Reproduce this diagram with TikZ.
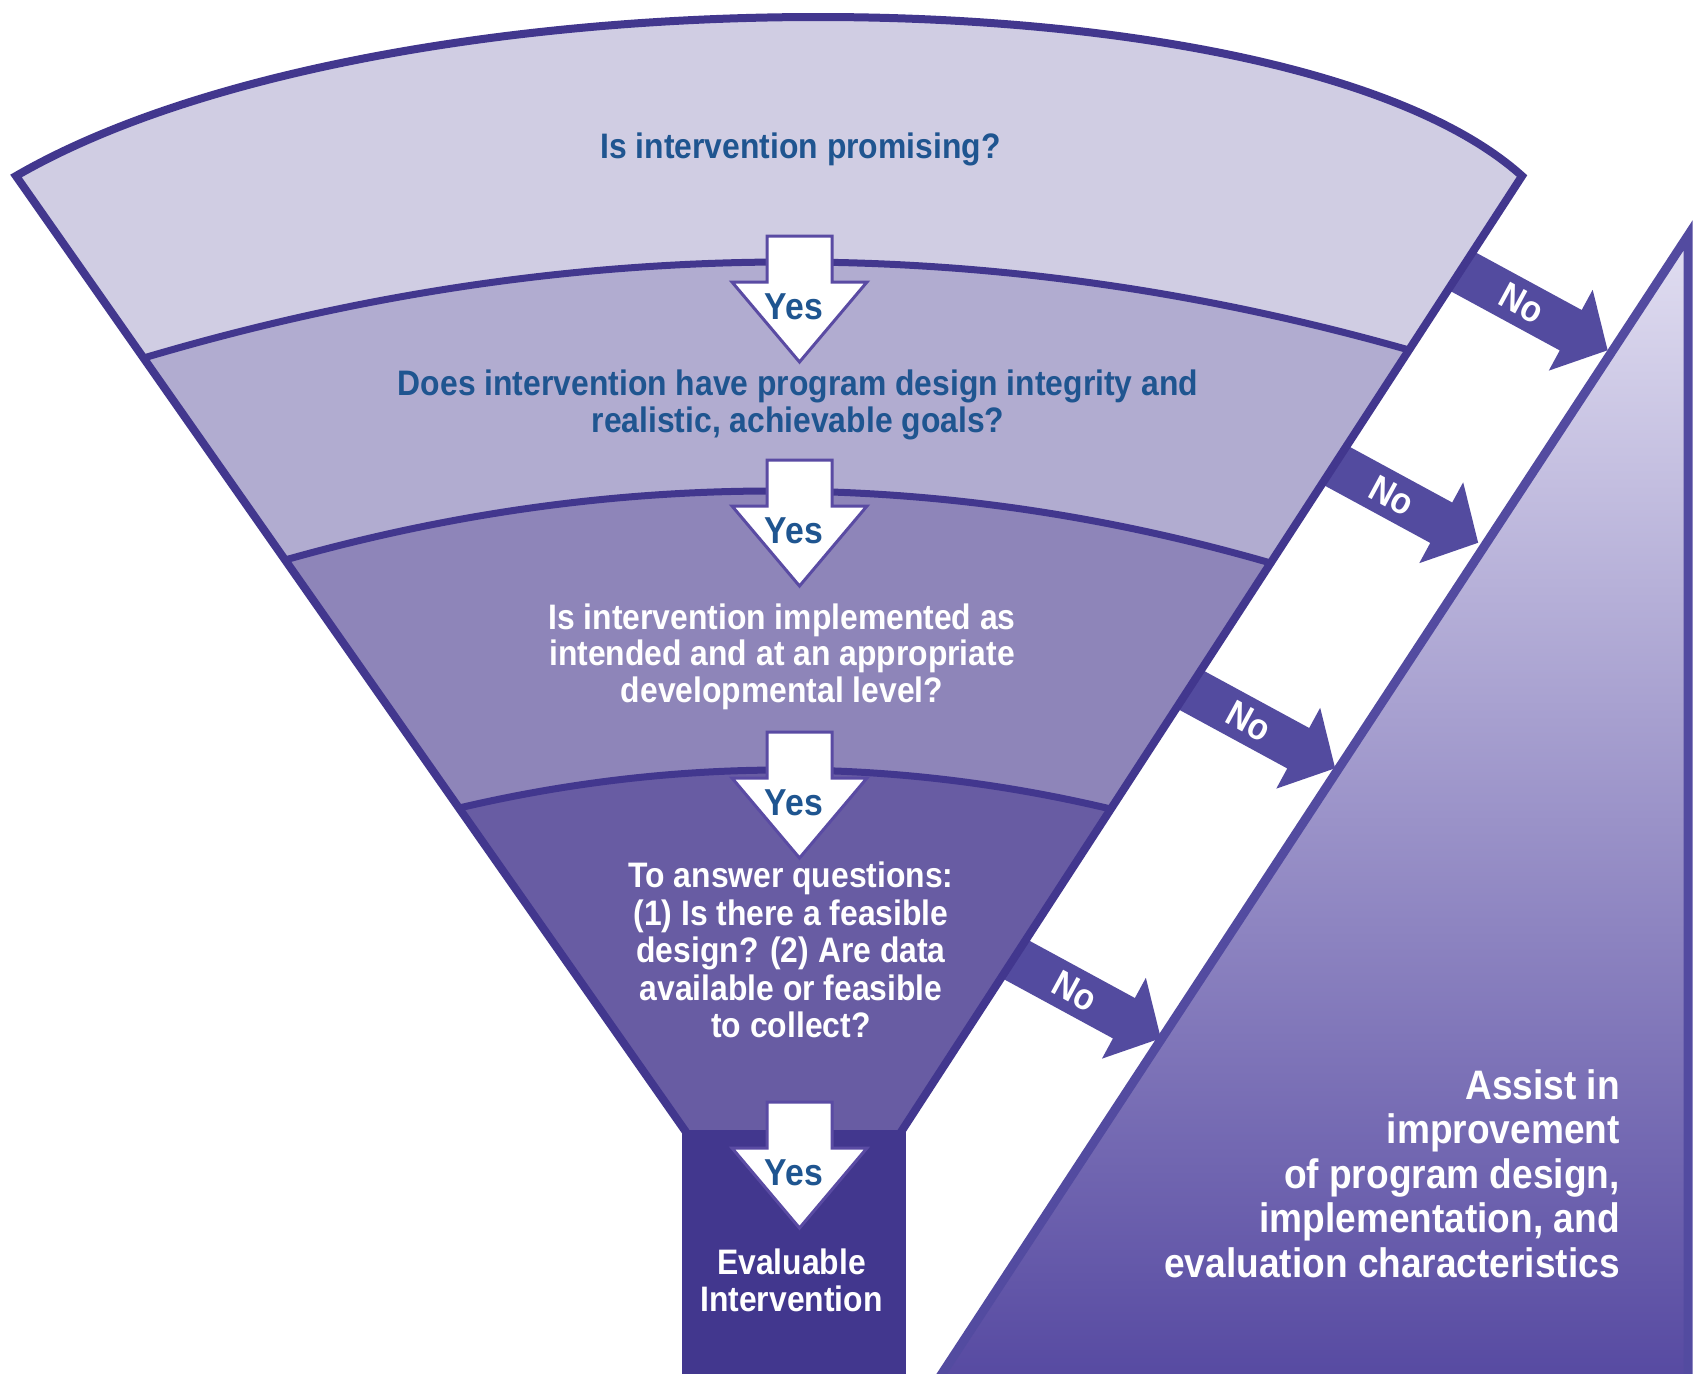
\documentclass[tikz,border=0pt]{standalone}
\usepackage{fontspec}
\setmainfont{Liberation Sans}[FakeStretch=0.9]
\usetikzlibrary{calc}
\definecolor{bandA}{HTML}{D0CDE3}
\definecolor{bandB}{HTML}{B1ACD0}
\definecolor{bandC}{HTML}{8E85B9}
\definecolor{bandD}{HTML}{685CA3}
\definecolor{funline}{HTML}{42378E}
\definecolor{qblue}{HTML}{1F5590}
\definecolor{noarrow}{HTML}{534B9F}
\definecolor{triline}{HTML}{534BA0}
\definecolor{tritop}{HTML}{E1DEF1}
\definecolor{trimid}{HTML}{A39BCA}
\definecolor{tribot}{HTML}{5447A0}
\definecolor{yesline}{HTML}{5A4BA3}
\begin{document}
\begin{tikzpicture}[x=1pt,y=-1pt,
  qtext/.style={font=\fontsize{35.4}{36.5}\selectfont\bfseries,inner sep=0pt,align=center,anchor=base},
  wide/.style={font=\fontsize{35.4}{37.5}\selectfont\bfseries},
  bluetext/.style={qtext,text=qblue},
  whitetext/.style={qtext,text=white},
  sidetext/.style={font=\fontsize{41.2}{44.5}\selectfont\bfseries,inner sep=0pt,align=right,anchor=base east,text=white},
  yestext/.style={font=\fontsize{37.5}{40}\selectfont\bfseries,inner sep=0pt,anchor=base,text=qblue},
  notext/.style={font=\fontsize{37}{40}\selectfont\bfseries,inner sep=0pt,text=white,rotate=-28.5},
  funnelline/.style={draw=funline,line width=8pt,line join=miter},
  bandline/.style={draw=funline,line width=7pt},
  yesarrow/.style={fill=white,draw=yesline,line width=3pt,line join=miter},
  noshape/.style={fill=noarrow},
]
\useasboundingbox (0,0) rectangle (1704,1373);
\clip (0,0) rectangle (1704,1373);
\fill[white] (0,0) rectangle (1704,1373);

% ---- right triangle ----
\coordinate (TA) at (1688,235.5);
\coordinate (TB) at (1688,1400);
\coordinate (TC) at (924.7,1400);
\shade[top color=tritop, middle color=trimid, bottom color=tribot] (TA) -- (TB) -- (TC) -- cycle;
\draw[triline, line width=9pt, line join=miter] (TC) -- (TA) -- (TB);

% ---- No arrows ----
\foreach \ox/\oy/\nm in {1463.5/272/1, 1334/464.5/2, 1191/690/3, 1016.7/960/4}{
  \begin{scope}[shift={(\ox,\oy)}, rotate=-28.5]
    \fill[noshape] (-10,-23) -- (122,-23) -- (122,-46) -- (164,0) -- (122,46) -- (122,23) -- (-10,23) -- cycle;
    \node[notext] (no\nm) at (66,0) {No};
  \end{scope}
}

% ---- funnel geometry ----
\coordinate (L1) at (16,176);
\coordinate (L2) at (143.6,358);
\coordinate (L3) at (285,560);
\coordinate (L4) at (459,808);
\coordinate (L5) at (686,1132);
\coordinate (R1) at (1522,176);
\coordinate (R2) at (1409,350);
\coordinate (R3) at (1270.6,563);
\coordinate (R4) at (1110.8,809);
\coordinate (R5) at (901,1132);
\coordinate (A1a) at (382,-36);
\coordinate (A1b) at (1287,-36);
\coordinate (Q2) at (776.3,170);
\coordinate (Q3) at (777.8,420.5);
\coordinate (Q4) at (784.9,731.5);
\coordinate (A2a) at ($(L2)!2/3!(Q2)$);
\coordinate (A2b) at ($(R2)!2/3!(Q2)$);
\coordinate (A3a) at ($(L3)!2/3!(Q3)$);
\coordinate (A3b) at ($(R3)!2/3!(Q3)$);
\coordinate (A4a) at ($(L4)!2/3!(Q4)$);
\coordinate (A4b) at ($(R4)!2/3!(Q4)$);

\fill[bandA] (L1) .. controls (A1a) and (A1b) .. (R1) -- (R2) .. controls (A2b) and (A2a) .. (L2) -- cycle;
\fill[bandB] (L2) .. controls (A2a) and (A2b) .. (R2) -- (R3) .. controls (A3b) and (A3a) .. (L3) -- cycle;
\fill[bandC] (L3) .. controls (A3a) and (A3b) .. (R3) -- (R4) .. controls (A4b) and (A4a) .. (L4) -- cycle;
\fill[bandD] (L4) .. controls (A4a) and (A4b) .. (R4) -- (R5) -- (L5) -- cycle;
\fill[funline] (682,1130) rectangle (906,1400);

\draw[bandline] (L2) .. controls (A2a) and (A2b) .. (R2);
\draw[bandline] (L3) .. controls (A3a) and (A3b) .. (R3);
\draw[bandline] (L4) .. controls (A4a) and (A4b) .. (R4);
\draw[funnelline] (L5) -- (L1) .. controls (A1a) and (A1b) .. (R1) -- (R5);

% ---- Yes arrows ----
\foreach \t/\nm in {236/1, 460/2, 732/3, 1102/4}{
  \draw[yesarrow] (767,\t) -- (832,\t) -- (832,\t+46) -- (867,\t+46) -- (799.5,\t+126) -- (732,\t+46) -- (767,\t+46) -- cycle;
  \node[yestext] (yes\nm) at (794,\t+83.5) {Yes};
}

% ---- texts (anchor = baseline of last line) ----
\node[bluetext] (q1) at (800.5,158.6) {Is intervention promising?};
\node[bluetext] (q2) at (798,432) {Does intervention have program design integrity and\\realistic, achievable goals?};
\node[whitetext] (q3) at (782,702) {Is intervention implemented as\\intended and at an appropriate\\developmental level?};
\node[whitetext,wide] (q4) at (791,1037.5) {To answer questions:\\(1) Is there a feasible\\design? (2) Are data\\available or feasible\\to collect?};
\node[whitetext,wide] (q5) at (791.5,1311.5) {Evaluable\\Intervention};
\node[sidetext] (assist) at (1620,1277) {Assist in\\improvement\\of program design,\\implementation, and\\evaluation characteristics};
\end{tikzpicture}
\end{document}
